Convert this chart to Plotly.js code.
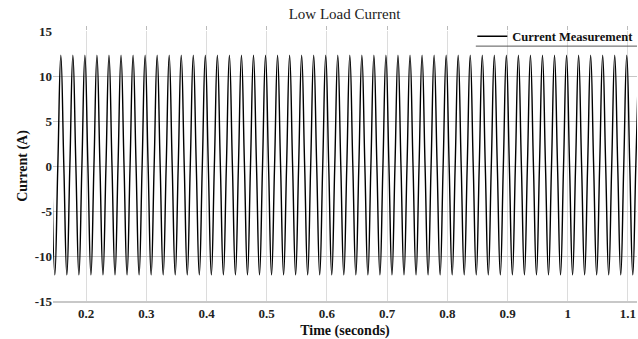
<!DOCTYPE html>
<html>
<head>
<meta charset="utf-8">
<script src="https://cdn.plot.ly/plotly-3.0.1.min.js"></script>
<style>html,body{margin:0;padding:0;background:#fff;}#chart{width:638px;height:339px;}</style>
</head>
<body>
<div id="chart"></div>
<script>
// Time samples (seconds) at quarter-period points (50 Hz waveform)
const timeSeconds = [
0.143,0.148,0.153,0.158,0.163,0.168,0.173,0.178,0.183,0.188,
0.193,0.198,0.203,0.208,0.213,0.218,0.223,0.228,0.233,0.238,
0.243,0.248,0.253,0.258,0.263,0.268,0.273,0.278,0.283,0.288,
0.293,0.298,0.303,0.308,0.313,0.318,0.323,0.328,0.333,0.338,
0.343,0.348,0.353,0.358,0.363,0.368,0.373,0.378,0.383,0.388,
0.393,0.398,0.403,0.408,0.413,0.418,0.423,0.428,0.433,0.438,
0.443,0.448,0.453,0.458,0.463,0.468,0.473,0.478,0.483,0.488,
0.493,0.498,0.503,0.508,0.513,0.518,0.523,0.528,0.533,0.538,
0.543,0.548,0.553,0.558,0.563,0.568,0.573,0.578,0.583,0.588,
0.593,0.598,0.603,0.608,0.613,0.618,0.623,0.628,0.633,0.638,
0.643,0.648,0.653,0.658,0.663,0.668,0.673,0.678,0.683,0.688,
0.693,0.698,0.703,0.708,0.713,0.718,0.723,0.728,0.733,0.738,
0.743,0.748,0.753,0.758,0.763,0.768,0.773,0.778,0.783,0.788,
0.793,0.798,0.803,0.808,0.813,0.818,0.823,0.828,0.833,0.838,
0.843,0.848,0.853,0.858,0.863,0.868,0.873,0.878,0.883,0.888,
0.893,0.898,0.903,0.908,0.913,0.918,0.923,0.928,0.933,0.938,
0.943,0.948,0.953,0.958,0.963,0.968,0.973,0.978,0.983,0.988,
0.993,0.998,1.003,1.008,1.013,1.018,1.023,1.028,1.033,1.038,
1.043,1.048,1.053,1.058,1.063,1.068,1.073,1.078,1.083,1.088,
1.093,1.098,1.103,1.108,1.113,1.118
];
// Current (A) at those points: zero crossings, troughs and peaks
const currentAmps = [
0,-12.1,0,12.3,0,-12.1,0,12.3,0,-12.1,
0,12.3,0,-12.1,0,12.3,0,-12.1,0,12.3,
0,-12.1,0,12.3,0,-12.1,0,12.3,0,-12.1,
0,12.3,0,-12.1,0,12.3,0,-12.1,0,12.3,
0,-12.1,0,12.3,0,-12.1,0,12.3,0,-12.1,
0,12.3,0,-12.1,0,12.3,0,-12.1,0,12.3,
0,-12.1,0,12.3,0,-12.1,0,12.3,0,-12.1,
0,12.3,0,-12.1,0,12.3,0,-12.1,0,12.3,
0,-12.1,0,12.3,0,-12.1,0,12.3,0,-12.1,
0,12.3,0,-12.1,0,12.3,0,-12.1,0,12.3,
0,-12.1,0,12.3,0,-12.1,0,12.3,0,-12.1,
0,12.3,0,-12.1,0,12.3,0,-12.1,0,12.3,
0,-12.1,0,12.3,0,-12.1,0,12.3,0,-12.1,
0,12.3,0,-12.1,0,12.3,0,-12.1,0,12.3,
0,-12.1,0,12.3,0,-12.1,0,12.3,0,-12.1,
0,12.3,0,-12.1,0,12.3,0,-12.1,0,12.3,
0,-12.1,0,12.3,0,-12.1,0,12.3,0,-12.1,
0,12.3,0,-12.1,0,12.3,0,-12.1,0,12.3,
0,-12.1,0,12.3,0,-12.1,0,12.3,0,-12.1,
0,12.3,0,-12.1,0,12.3
];
const xTickVals = [0.2,0.3,0.4,0.5,0.6,0.7,0.8,0.9,1.0,1.1];
const xTickText = ['0.2','0.3','0.4','0.5','0.6','0.7','0.8','0.9','1','1.1'];
const yTickVals = [-15,-10,-5,0,5,10,15];
const yTickText = ['-15','-10','-5','0','5','10','15'];
const seriesName = 'Current Measurement';

const serif = 'Liberation Serif, Times New Roman, serif';

const trace = {
  x: timeSeconds,
  y: currentAmps,
  type: 'scatter',
  mode: 'lines',
  name: seriesName,
  line: {color: '#000000', width: 1.4, shape: 'spline', smoothing: 1.3},
  showlegend: true
};

const layout = {
  width: 638, height: 339,
  margin: {l: 53, r: 1, t: 31, b: 38, autoexpand: false},
  paper_bgcolor: '#ffffff',
  plot_bgcolor: '#ffffff',
  title: {text: 'Low Load Current', font: {family: serif, size: 15, color: '#222'}, x: 0.54, xanchor: 'center', y: 0.975, yanchor: 'top'},
  xaxis: {
    range: [0.145, 1.115],
    tickvals: xTickVals, ticktext: xTickText,
    showgrid: true, gridcolor: '#dcdcdc', gridwidth: 1,
    zeroline: false,
    showline: true, linecolor: '#c8c8c8', linewidth: 1.5,
    ticks: '',
    tickfont: {family: serif, size: 13, color: '#222', weight: 'bold'},
    title: {text: 'Time (seconds)', font: {family: serif, size: 14, color: '#111', weight: 'bold'}, standoff: 6}
  },
  xaxis2: {
    overlaying: 'x', matches: 'x', side: 'top',
    range: [0.145, 1.115],
    tickvals: xTickVals, showticklabels: false,
    ticks: 'outside', ticklen: 4, tickcolor: '#bbbbbb', tickwidth: 1,
    showgrid: false, zeroline: false, showline: false
  },
  yaxis: {
    range: [-15, 15],
    tickvals: yTickVals, ticktext: yTickText,
    showgrid: true, gridcolor: '#c6c6c6', gridwidth: 1,
    zeroline: false,
    showline: false,
    ticks: '',
    tickfont: {family: serif, size: 13, color: '#222', weight: 'bold'},
    title: {text: 'Current (A)', font: {family: serif, size: 14, color: '#111', weight: 'bold'}, standoff: 3}
  },
  legend: {
    x: 0.718, xanchor: 'left', y: 1.035, yanchor: 'top',
    bgcolor: 'rgba(255,255,255,0)', borderwidth: 0,
    font: {family: serif, size: 12.5, color: '#111', weight: 'bold'},
    itemwidth: 30, tracegroupgap: 0
  },
  shapes: [{
    type: 'line', xref: 'paper', yref: 'paper',
    x0: 0.724, x1: 1, y0: 0.944, y1: 0.944,
    line: {color: '#555555', width: 1}
  }]
};

const dummyTop = {x: [0.5], y: [0], xaxis: 'x2', yaxis: 'y', mode: 'markers', marker: {opacity: 0}, showlegend: false, hoverinfo: 'skip'};

Plotly.newPlot('chart', [trace, dummyTop], layout, {displayModeBar: false, staticPlot: true});
</script>
</body>
</html>
